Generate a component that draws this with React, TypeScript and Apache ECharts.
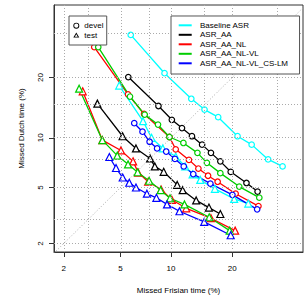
import React, { useEffect, useRef } from 'react';
import * as echarts from 'echarts';

// Systems, colours
const systems = ['Baseline ASR', 'ASR_AA', 'ASR_AA_NL', 'ASR_AA_NL-VL', 'ASR_AA_NL-VL_CS-LM'];
const systemColors = ['#00FFFF', '#000000', '#FF0000', '#00CD00', '#0000FF'];

// Axis ticks / grid (percent)
const tickPercents = [2, 5, 10, 20];
const tickLabels = ['2', '5', '10', '20'];
const gridPercents = [2, 3, 5, 7.5, 10, 15, 20, 30];

// Points: [missed Frisian time %, missed Dutch time %]
const baselineDevel = [[5.8, 29.8], [9.2, 20.9], [12.8, 15.95], [14.9, 14.1], [17.3, 12.9], [21.1, 10.2], [24.15, 9.15], [28.0, 7.5], [31.6, 6.8]];
const baselineTest = [[4.9, 18.4], [6.9, 12.3], [7.75, 10.0], [9.0, 8.7], [10.6, 7.8], [11.9, 6.8], [13.0, 6.07], [14.2, 5.6], [16.7, 4.9], [20.4, 4.2], [23.4, 3.9]];
const aaDevel = [[5.6, 20.1], [8.5, 14.7], [10.1, 12.5], [11.45, 11.3], [12.9, 10.2], [14.5, 9.15], [16.0, 8.2], [17.7, 7.3], [19.7, 6.3], [23.0, 5.35], [25.5, 4.7]];
const aaTest = [[3.5, 15.1], [5.15, 10.2], [6.25, 8.7], [7.6, 7.6], [8.1, 6.8], [9.1, 6.3], [10.8, 5.2], [11.55, 4.8], [13.55, 4.1], [15.65, 3.66], [17.7, 3.3]];
const nlDevel = [[3.33, 26.8], [5.58, 16.75], [7.0, 13.4], [9.8, 10.1], [10.6, 8.6], [12.45, 7.45], [13.9, 6.6], [15.5, 5.95], [17.2, 5.45], [20.7, 4.55], [25.7, 3.75]];
const nlTest = [[2.76, 17.3], [3.79, 9.7], [5.03, 8.47], [6.0, 7.3], [6.45, 6.23], [7.4, 5.45], [8.8, 4.85], [10.1, 4.14], [12.05, 3.62], [16.0, 3.08], [20.6, 2.5]];
const vlDevel = [[3.55, 26.8], [5.74, 16.35], [7.06, 13.3], [8.45, 11.8], [9.8, 10.1], [11.65, 9.35], [13.75, 8.2], [15.3, 7.15], [17.7, 6.18], [21.45, 5.07], [25.9, 4.28]];
const vlTest = [[2.6, 17.8], [3.79, 9.7], [4.76, 7.9], [5.58, 7.0], [6.4, 6.26], [7.5, 5.53], [8.75, 4.8], [9.87, 4.24], [11.8, 3.85], [15.7, 3.13], [19.5, 2.5]];
const cslmDevel = [[6.1, 12.0], [6.85, 10.8], [7.55, 9.5], [8.35, 8.7], [9.4, 8.35], [10.5, 7.55], [11.7, 6.8], [13.1, 6.1], [15.9, 5.3], [20.05, 4.47], [25.4, 3.56]];
const cslmTest = [[4.22, 7.75], [4.67, 6.65], [5.16, 5.8], [5.68, 5.37], [6.25, 5.0], [7.28, 4.55], [8.27, 4.27], [9.5, 3.85], [11.1, 3.45], [14.85, 2.9], [19.7, 2.31]];

const develSets = [baselineDevel, aaDevel, nlDevel, vlDevel, cslmDevel];
const testSets = [baselineTest, aaTest, nlTest, vlTest, cslmTest];

// inverse normal CDF (Acklam)
function probit(p: number): number {
  const a = [-3.969683028665376e1, 2.209460984245205e2, -2.759285104469687e2, 1.38357751867269e2, -3.066479806614716e1, 2.506628277459239];
  const b = [-5.447609879822406e1, 1.615858368580409e2, -1.556989798598866e2, 6.680131188771972e1, -1.328068155288572e1];
  const c = [-7.784894002430293e-3, -3.223964580411365e-1, -2.400758277161838, -2.549732539343734, 4.374664141464968, 2.938163982698783];
  const d = [7.784695709041462e-3, 3.224671290700398e-1, 2.445134137142996, 3.754408661907416];
  const plow = 0.02425;
  let q: number, r: number;
  if (p < plow) {
    q = Math.sqrt(-2 * Math.log(p));
    return (((((c[0] * q + c[1]) * q + c[2]) * q + c[3]) * q + c[4]) * q + c[5]) / ((((d[0] * q + d[1]) * q + d[2]) * q + d[3]) * q + 1);
  }
  if (p <= 1 - plow) {
    q = p - 0.5;
    r = q * q;
    return ((((((a[0] * r + a[1]) * r + a[2]) * r + a[3]) * r + a[4]) * r + a[5]) * q) / (((((b[0] * r + b[1]) * r + b[2]) * r + b[3]) * r + b[4]) * r + 1);
  }
  q = Math.sqrt(-2 * Math.log(1 - p));
  return -(((((c[0] * q + c[1]) * q + c[2]) * q + c[3]) * q + c[4]) * q + c[5]) / ((((d[0] * q + d[1]) * q + d[2]) * q + d[3]) * q + 1);
}
const pz = (pct: number) => probit(pct / 100);

const X_MIN = -2.124, X_MAX = -0.332, Y_MIN = -2.116, Y_MAX = -0.3115;
const FONT = '"Liberation Sans", Arial, Helvetica, sans-serif';

const tickZ = tickPercents.map(pz);
const tickFormatter = (v: number) => {
  let best = 0;
  tickZ.forEach((z, i) => { if (Math.abs(z - v) < Math.abs(tickZ[best] - v)) best = i; });
  return tickLabels[best];
};

const CIRCLE_ICON = 'path://M0,3A3,3,0,1,1,6,3A3,3,0,1,1,0,3ZM0.9,3A2.1,2.1,0,1,0,5.1,3A2.1,2.1,0,1,0,0.9,3Z';
const TRI_ICON = 'path://M3,0L6,5.2L0,5.2ZM3,1.8L1.56,4.3L4.44,4.3Z';

export default function App() {
  const ref = useRef<HTMLDivElement>(null);
  useEffect(() => {
    if (!ref.current) return;
    const chart = echarts.init(ref.current, null, { renderer: 'svg' });
    const gridStyle = { type: [1, 2] as any, color: '#aaa', width: 1 };
    const series: any[] = [
      {
        type: 'line', name: 'ref', silent: true, symbol: 'none', clip: true,
        data: [[Math.min(X_MIN, Y_MIN), Math.min(X_MIN, Y_MIN)], [Math.max(X_MAX, Y_MAX), Math.max(X_MAX, Y_MAX)]],
        lineStyle: gridStyle, z: 1,
        markLine: {
          silent: true, symbol: ['none', 'none'], label: { show: false }, lineStyle: gridStyle, animation: false,
          data: [...gridPercents.map((p) => ({ xAxis: pz(p) })), ...gridPercents.map((p) => ({ yAxis: pz(p) }))],
        },
      },
      { type: 'line', name: 'devel', data: [], symbol: 'circle', itemStyle: { color: '#000' } },
      { type: 'line', name: 'test', data: [], symbol: 'triangle', itemStyle: { color: '#000' } },
    ];
    systems.forEach((name, i) => {
      const color = systemColors[i];
      series.push({
        type: 'line', name, data: develSets[i].map(([x, y]) => [pz(x), pz(y)]),
        symbol: 'circle', symbolSize: 5.5, z: 3,
        lineStyle: { color, width: 1.3 },
        itemStyle: { color: '#fff', borderColor: color, borderWidth: 1.2 },
      });
      series.push({
        type: 'line', name, data: testSets[i].map(([x, y]) => [pz(x), pz(y)]),
        symbol: 'triangle', symbolSize: 7, z: 3,
        lineStyle: { color, width: 1.3 },
        itemStyle: { color: '#fff', borderColor: color, borderWidth: 1.2 },
      });
    });

    chart.setOption({
      animation: false,
      backgroundColor: '#fff',
      grid: { left: 54, top: 5, width: 249, height: 253, show: true, borderColor: '#333', borderWidth: 1, backgroundColor: 'transparent' },
      xAxis: {
        type: 'value', min: X_MIN, max: X_MAX,
        axisLine: { show: true, onZero: false, lineStyle: { color: '#333', width: 1 } },
        axisTick: { show: true, customValues: tickZ, length: 5, lineStyle: { color: '#333' } },
        axisLabel: { customValues: tickZ, formatter: tickFormatter, fontSize: 8, color: '#000', margin: 12, fontFamily: FONT },
        splitLine: { show: false },
        name: 'Missed Frisian time (%)', nameLocation: 'middle', nameGap: 34,
        nameTextStyle: { fontSize: 8, color: '#000', fontFamily: FONT },
      },
      yAxis: {
        type: 'value', min: Y_MIN, max: Y_MAX,
        axisLine: { show: true, onZero: false, lineStyle: { color: '#333', width: 1 } },
        axisTick: { show: true, customValues: tickZ, length: 5, lineStyle: { color: '#333' } },
        axisLabel: { customValues: tickZ, formatter: tickFormatter, fontSize: 8, color: '#000', margin: 10, rotate: 90, fontFamily: FONT },
        splitLine: { show: false },
        name: 'Missed Dutch time (%)', nameLocation: 'middle', nameGap: 29,
        nameTextStyle: { fontSize: 8, color: '#000', fontFamily: FONT },
      },
      legend: [
        {
          left: 69, top: 16, orient: 'vertical', selectedMode: false,
          backgroundColor: '#fff', borderColor: '#555', borderWidth: 1,
          padding: [5.7, 3.3, 6, 4.3], itemGap: 1.3, itemWidth: 6, itemHeight: 6,
          textStyle: { fontSize: 8, color: '#000', fontFamily: FONT },
          data: [
            { name: 'devel', icon: CIRCLE_ICON, itemStyle: { color: '#000', borderWidth: 0 } },
            { name: 'test', icon: TRI_ICON, itemStyle: { color: '#000', borderWidth: 0 } },
          ],
          z: 10,
        },
        {
          left: 171, top: 16, orient: 'vertical', selectedMode: false,
          backgroundColor: '#fff', borderColor: '#555', borderWidth: 1,
          padding: [5.3, 11.5, 6.7, 7.7], itemGap: 1.5, itemWidth: 13, itemHeight: 2,
          textStyle: { fontSize: 8, color: '#000', fontFamily: FONT, padding: [0, 0, 0, 3.3] },
          data: systems.map((name, i) => ({ name, icon: 'rect', itemStyle: { color: systemColors[i], borderWidth: 0 } })),
          z: 10,
        },
      ],
      series,
    });
    return () => chart.dispose();
  }, []);
  return <div ref={ref} style={{ position: 'fixed', left: 0, top: 0, width: 304, height: 299 }} />;
}
